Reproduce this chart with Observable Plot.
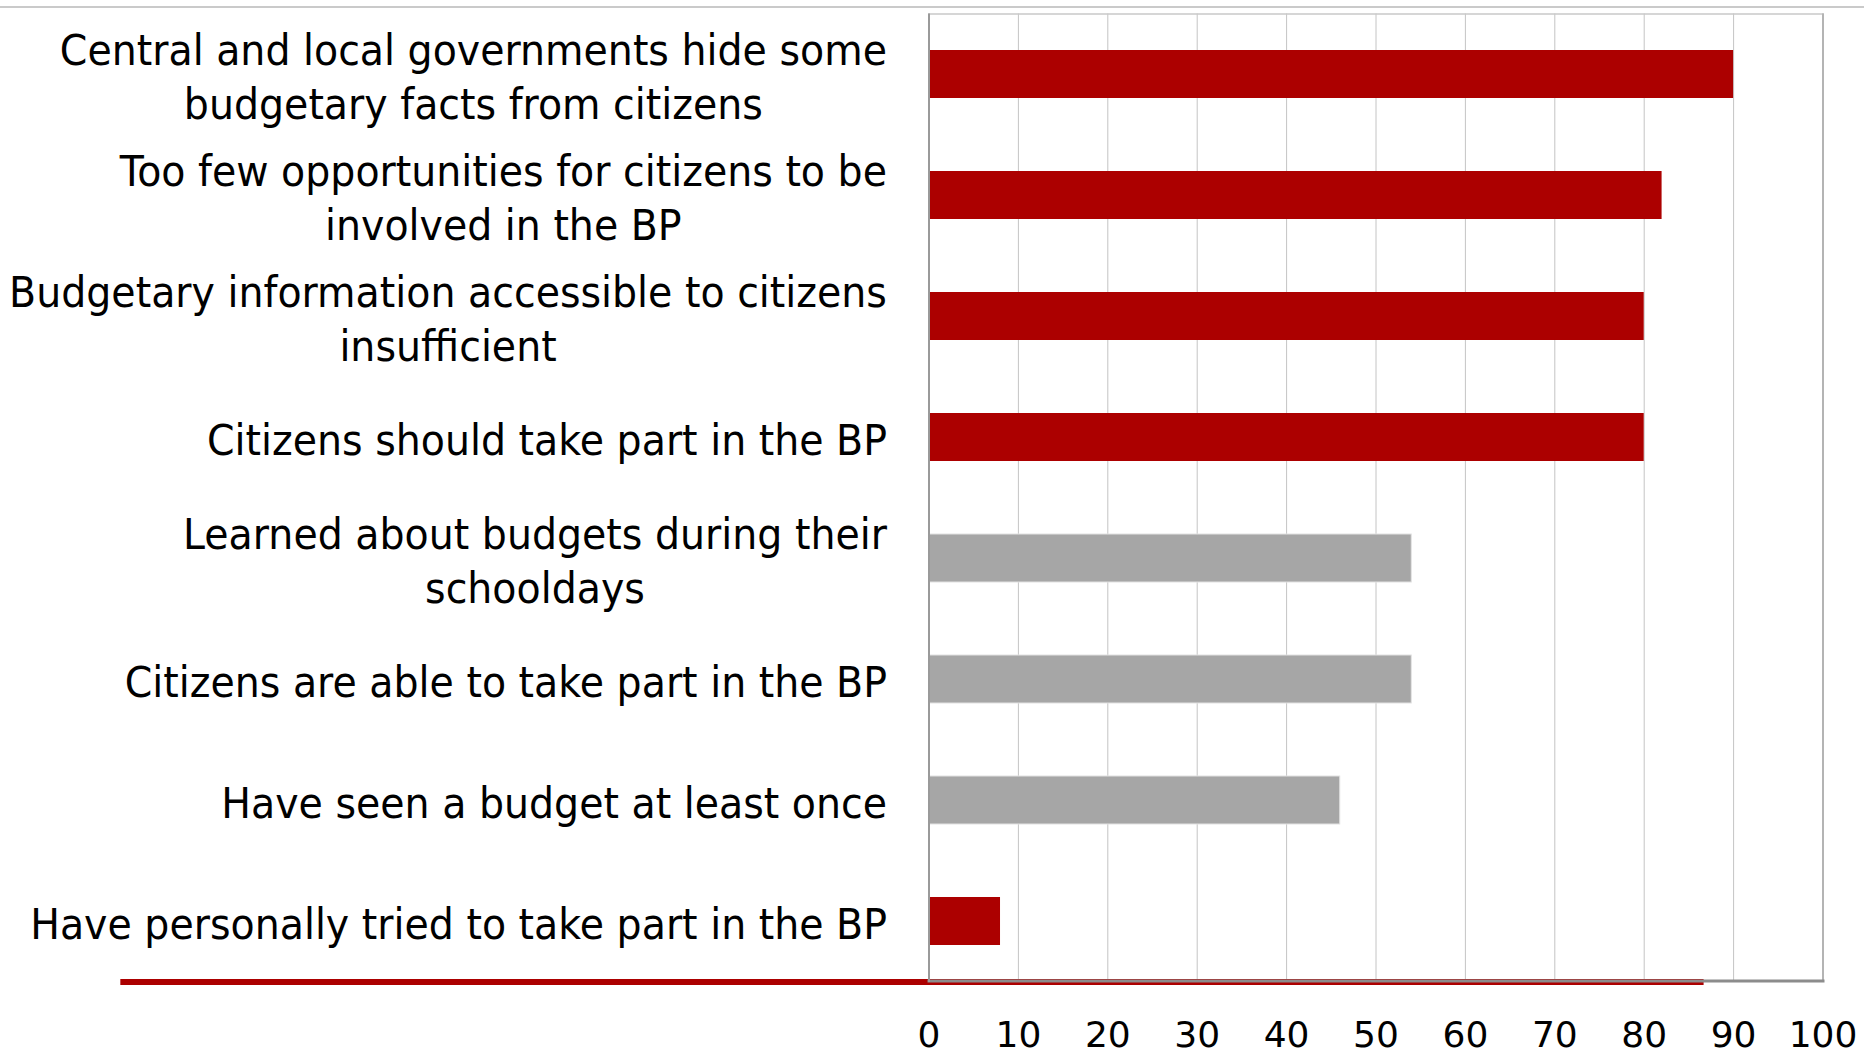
<!DOCTYPE html>
<html>
<head>
<meta charset="utf-8">
<script src="https://cdn.jsdelivr.net/npm/d3@7"></script>
<script src="https://cdn.jsdelivr.net/npm/@observablehq/plot@0.6"></script>
<style>
  html, body { margin: 0; padding: 0; background: #ffffff; overflow: hidden; }
  #wrap { position: relative; width: 1864px; height: 1057px; }
  #topline { position: absolute; left: 0; right: 0; top: 5.5px; height: 0; border-top: 2px solid #cacaca; }
</style>
</head>
<body>
<div id="wrap"><div id="topline"></div><div id="chart"></div></div>
<script>
// ---- data ----
const categories = [
  "Central and local governments hide some budgetary facts from citizens",
  "Too few opportunities for citizens to be involved in the BP",
  "Budgetary information accessible to citizens insufficient",
  "Citizens should take part in the BP",
  "Learned about budgets during their schooldays",
  "Citizens are able to take part in the BP",
  "Have seen a budget at least once",
  "Have personally tried to take part in the BP"
];
const tickLabels = [
  "Central and local governments hide some\nbudgetary facts from citizens",
  "Too few opportunities for citizens to be\ninvolved in the BP",
  "Budgetary information accessible to citizens\ninsufficient",
  "Citizens should take part in the BP",
  "Learned about budgets during their\nschooldays",
  "Citizens are able to take part in the BP",
  "Have seen a budget at least once",
  "Have personally tried to take part in the BP"
];
const values = [90, 82, 80, 80, 54, 54, 46, 8];
const highlight = [true, true, true, true, false, false, false, true];
const xTicks = [0, 10, 20, 30, 40, 50, 60, 70, 80, 90, 100];
// decorative red underline span, in x-axis units
const underlineFrom = -90.4;
const underlineTo = 86.7;

const data = categories.map((c, i) => ({category: c, value: values[i], hi: highlight[i]}));
const labelOf = new Map(categories.map((c, i) => [c, tickLabels[i]]));

const RED = "#ac0000", GRAY = "#a6a6a6";

const underline = (index, scales, values, dim) => {
  const y = dim.height - dim.marginBottom;
  return d3.create("svg:line")
    .attr("x1", scales.x(underlineFrom)).attr("x2", scales.x(underlineTo))
    .attr("y1", y).attr("y2", y)
    .attr("stroke", RED).attr("stroke-width", 6).node();
};

const chart = Plot.plot({
  width: 1864,
  height: 1057,
  marginLeft: 928.5,
  marginRight: 41.5,
  marginTop: 13.5,
  marginBottom: 75,
  style: {fontFamily: "DejaVu Sans", background: "#ffffff", color: "#000"},
  x: {domain: [0, 100], label: null},
  y: {domain: categories, paddingInner: 0.6, paddingOuter: 0.3, label: null},
  marks: [
    Plot.gridX(xTicks, {stroke: "#c4c4c4", strokeOpacity: 1, strokeWidth: 1}),
    Plot.barX(data.filter(d => d.hi), {x: "value", y: "category", fill: RED}),
    Plot.barX(data.filter(d => !d.hi), {x: "value", y: "category", fill: GRAY, stroke: "#e2e2e2", strokeWidth: 1}),
    Plot.frame({anchor: "top", stroke: "#c8c8c8", strokeWidth: 1.5}),
    Plot.ruleX([100], {stroke: "#b4b4b4", strokeWidth: 2}),
    underline,
    Plot.frame({anchor: "bottom", stroke: "#8c8c8c", strokeWidth: 3, dy: -1.5}),
    Plot.ruleX([0], {stroke: "#9a9a9a", strokeWidth: 2}),
    Plot.axisX(xTicks, {tickSize: 0, tickPadding: 39, fontSize: 36, label: null, tickFormat: d => String(d), stroke: null}),
    Plot.axisY({tickSize: 0, tickPadding: 42, fontSize: 39.5, lineHeight: 1.25, label: null, tickFormat: d => labelOf.get(d), textAnchor: "end"})
  ]
});

document.getElementById("chart").appendChild(chart);

// center multi-line tick labels within their block, and stretch text slightly vertically
chart.querySelectorAll('g[aria-label="y-axis tick label"] text').forEach(t => {
  const spans = t.querySelectorAll("tspan");
  if (spans.length > 1) {
    let w = 0;
    spans.forEach(s => { w = Math.max(w, s.getComputedTextLength()); });
    t.setAttribute("text-anchor", "middle");
    spans.forEach(s => s.setAttribute("x", -w / 2));
  }
  const tr = t.getAttribute("transform") || "";
  t.setAttribute("transform", tr + " scale(1,1.1)");
});
</script>
</body>
</html>
